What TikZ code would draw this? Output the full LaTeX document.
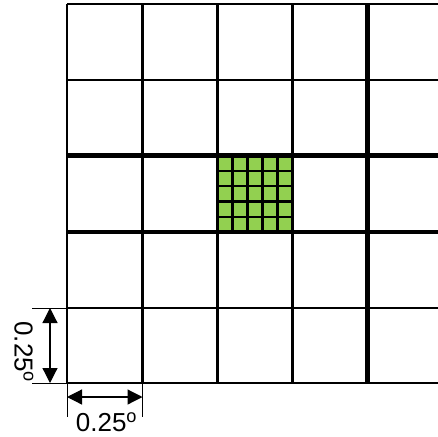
\documentclass[tikz,border=0pt]{standalone}
\usepackage{fontspec}
\setmainfont{Liberation Sans}
\usetikzlibrary{arrows.meta}
\definecolor{cellgreen}{RGB}{146,208,80}
\tikzset{
  gridln/.style={line width=2.6pt, black},
  boldln/.style={line width=4.2pt, black},
  subln/.style={line width=2.4pt, black},
  extln/.style={line width=1pt, black},
  dimarr/.style={{Triangle[length=15pt,width=15pt]}-{Triangle[length=15pt,width=15pt]}, line width=1.2pt, black},
  dimlbl/.style={font=\fontsize{26}{30}\selectfont, inner sep=0pt},
}

\begin{document}
\begin{tikzpicture}[x=1pt,y=-1pt]
    \useasboundingbox (0,0) rectangle (438,436);
    % refined cell
    \fill[cellgreen] (217.5,155.5) rectangle (292.5,232);
    \foreach \i in {1,...,4} {
      \draw[subln] (217.5+15*\i,155.5) -- (217.5+15*\i,232);
      \draw[subln] (217.5,155.5+15.3*\i) -- (292.5,155.5+15.3*\i);
    }
    % coarse grid
    \foreach \x in {67,142.5,217.5,292.5} \draw[gridln] (\x,4) -- (\x,383);
    \draw[boldln] (367.5,4) -- (367.5,383);
    \foreach \y in {4,80,308,383} \draw[gridln] (67,\y) -- (440,\y);
    \foreach \y in {155.5,232} \draw[boldln] (67,\y) -- (440,\y);
    % dimensions
    \coordinate (vtop) at (50,308); \coordinate (vbot) at (50,383);
    \coordinate (hlft) at (67,397); \coordinate (hrgt) at (142.5,397);
    \draw[extln] (32,308) -- (67,308); \draw[extln] (32,383) -- (67,383);
    \draw[extln] (67,383) -- (67,417); \draw[extln] (142.5,383) -- (142.5,417);
    \draw[dimarr] (vtop) -- (vbot);
    \draw[dimarr] (hlft) -- (hrgt);
    \node[dimlbl, rotate=-90] (vlbl) at (24,352) {0.25\textsuperscript{o}};
    \node[dimlbl] (hlbl) at (106.5,422.5) {0.25\textsuperscript{o}};
  \end{tikzpicture}
\end{document}
